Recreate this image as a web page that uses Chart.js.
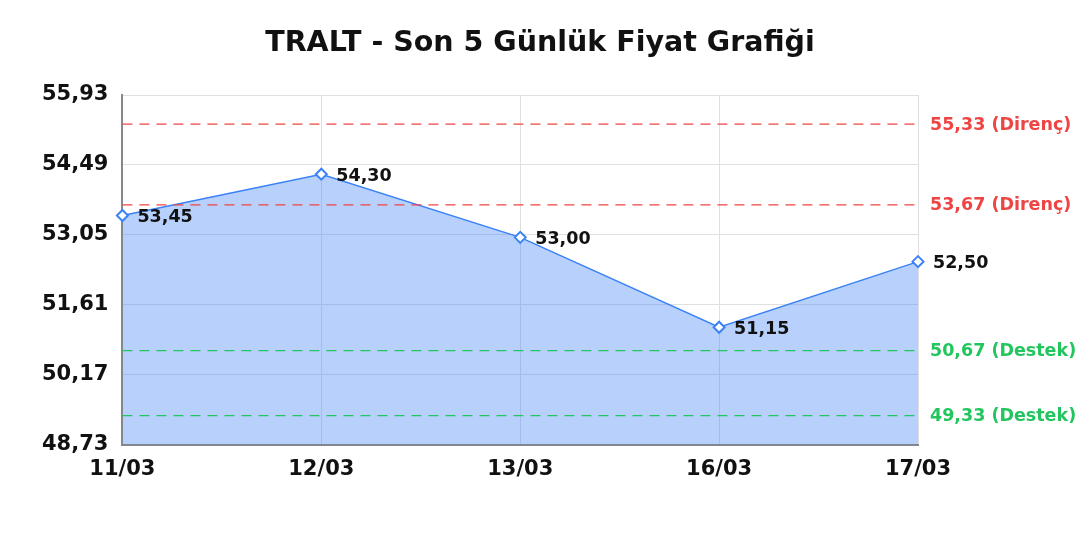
<!DOCTYPE html>
<html><head><meta charset="utf-8">
<script src="https://cdn.jsdelivr.net/npm/chart.js@4.4.0/dist/chart.umd.min.js"></script>
<style>html,body{margin:0;padding:0;background:#fff}#wrap{width:1080px;height:540px}</style>
</head><body><div id="wrap"><canvas id="c" width="1080" height="540"></canvas></div>
<script>
const categories = ["11/03","12/03","13/03","16/03","17/03"];
const prices = [53.45, 54.30, 53.00, 51.15, 52.50];
const yTicks = [48.73, 50.17, 51.61, 53.05, 54.49, 55.93];
const levelValues = [55.33, 53.67, 50.67, 49.33];
const levelKinds = ["Direnç","Direnç","Destek","Destek"];
const levelColors = ["#ef4444","#ef4444","#22c55e","#22c55e"];
const titleText = "TRALT - Son 5 Günlük Fiyat Grafiği";

const FAM = "'DejaVu Sans', sans-serif";
Chart.defaults.font.family = FAM;
const fmt = v => v.toFixed(2).replace('.', ',');

const levelsPlugin = {
  id: 'levels',
  afterDraw(chart) {
    const {ctx, width} = chart;
    ctx.save();
    ctx.fillStyle = '#111';
    ctx.font = 'bold 28.5px ' + FAM;
    ctx.textAlign = 'center';
    ctx.textBaseline = 'middle';
    ctx.fillText(titleText, width / 2, 44);
    ctx.restore();
  },
  afterDatasetsDraw(chart) {
    const {ctx, chartArea, scales} = chart;
    ctx.save();
    levelValues.forEach((v, i) => {
      const y = scales.y.getPixelForValue(v);
      ctx.strokeStyle = levelColors[i];
      ctx.lineWidth = 1.3;
      ctx.setLineDash([10, 7]);
      ctx.beginPath();
      ctx.moveTo(chartArea.left, y);
      ctx.lineTo(chartArea.right, y);
      ctx.stroke();
      ctx.setLineDash([]);
      ctx.fillStyle = levelColors[i];
      ctx.font = 'bold 17.5px ' + FAM;
      ctx.textAlign = 'left';
      ctx.textBaseline = 'middle';
      ctx.fillText(fmt(v) + ' (' + levelKinds[i] + ')', chartArea.right + 12, y + 1);
    });
    const meta = chart.getDatasetMeta(0);
    ctx.fillStyle = '#111';
    ctx.font = 'bold 17.5px ' + FAM;
    meta.data.forEach((pt, i) => {
      ctx.fillText(fmt(prices[i]), pt.x + 15, pt.y + 2);
    });
    ctx.restore();
  }
};

new Chart(document.getElementById('c'), {
  type: 'line',
  data: {
    labels: categories,
    datasets: [{
      data: prices,
      borderColor: '#3b82f6',
      borderWidth: 1.5,
      backgroundColor: 'rgba(59,130,246,0.37)',
      fill: 'start',
      tension: 0,
      pointStyle: 'rectRot',
      pointRadius: 5.5,
      pointBorderWidth: 2,
      pointBackgroundColor: '#fff',
      pointBorderColor: '#3b82f6'
    }]
  },
  options: {
    responsive: false,
    animation: false,
    layout: { padding: { left: 28, right: 162, top: 95, bottom: 46 } },
    plugins: {
      legend: { display: false },
      tooltip: { enabled: false },
      title: { display: false }
    },
    scales: {
      x: {
        offset: false,
        grid: { color: '#e0e0e0', drawTicks: false },
        border: { color: '#888', width: 2 },
        ticks: { color: '#111', font: { family: FAM, size: 21, weight: 'bold' }, padding: 12, maxRotation: 0 }
      },
      y: {
        min: yTicks[0],
        max: yTicks[yTicks.length - 1],
        afterBuildTicks(axis) { axis.ticks = yTicks.map(v => ({ value: v })); },
        grid: { color: '#e0e0e0', drawTicks: false },
        border: { color: '#888', width: 2 },
        ticks: { color: '#111', font: { family: FAM, size: 21, weight: 'bold' }, padding: 14,
                 callback: v => fmt(v) }
      }
    }
  },
  plugins: [levelsPlugin]
});
</script></body></html>
